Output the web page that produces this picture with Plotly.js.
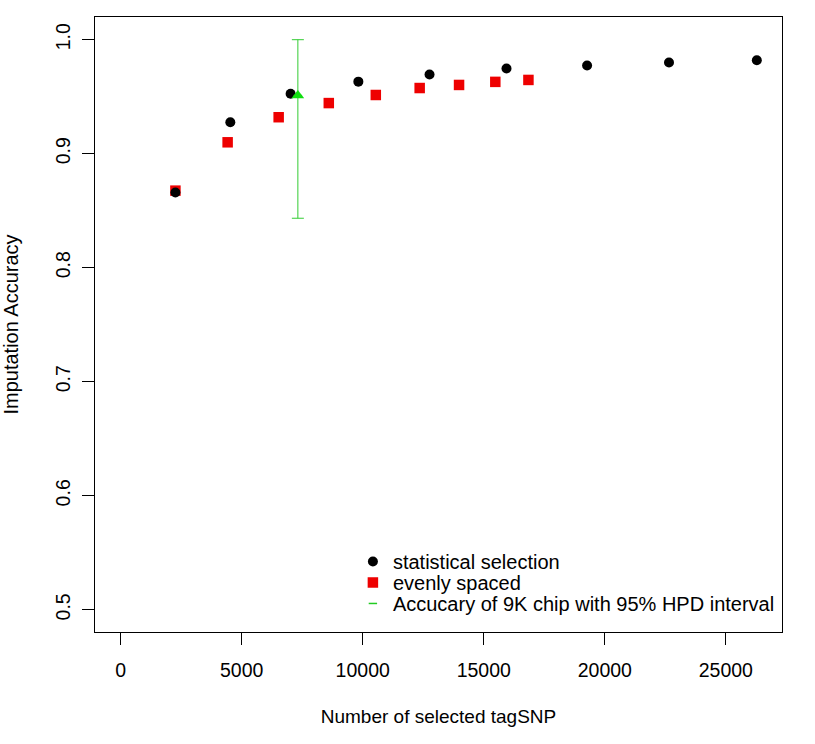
<!DOCTYPE html>
<html>
<head>
<meta charset="utf-8">
<script src="https://cdn.plot.ly/plotly-3.0.1.min.js"></script>
<style>html,body{margin:0;padding:0;background:#fff;}#chart{width:815px;height:744px;}</style>
</head>
<body>
<div id="chart"></div>
<script>
// Statistical selection (black circles)
const statX = [2262, 4530, 7020, 9819, 12759, 15939, 19268, 22652, 26280];
const statY = [0.866, 0.9276, 0.9526, 0.9632, 0.9694, 0.9747, 0.9774, 0.980, 0.982];
// Evenly spaced (red squares)
const evenX = [2262, 4419, 6527, 8598, 10540, 12352, 13979, 15477, 16845];
const evenY = [0.8676, 0.910, 0.932, 0.9444, 0.9515, 0.9576, 0.9603, 0.963, 0.9647];
// 9K chip accuracy with 95% HPD interval
const chipX = [7320];
const chipY = [0.951];
const chipUpper = [1.0];
const chipLower = [0.8434];

const xTicks = [0, 5000, 10000, 15000, 20000, 25000];
const yTicks = [0.5, 0.6, 0.7, 0.8, 0.9, 1.0];
const yTickText = ['0.5', '0.6', '0.7', '0.8', '0.9', '1.0'];

const names = ['statistical selection', 'evenly spaced', 'Accucary of 9K chip with 95% HPD interval'];

const FONT = 'Arial, "Liberation Sans", sans-serif';

const traces = [
  {
    x: evenX, y: evenY, type: 'scatter', mode: 'markers', name: names[1],
    marker: {symbol: 'square', size: 10.5, color: '#ee0000'},
    legend: 'legend2', cliponaxis: false
  },
  {
    x: statX, y: statY, type: 'scatter', mode: 'markers', name: names[0],
    marker: {symbol: 'circle', size: 10, color: '#000000'},
    legend: 'legend', cliponaxis: false
  },
  {
    x: chipX, y: chipY, type: 'scatter', mode: 'markers', name: names[2],
    marker: {symbol: 'line-ew-open', size: 6, color: '#22cc22', line: {color: '#22cc22', width: 1.5}},
    error_y: {
      type: 'data', symmetric: false,
      array: chipUpper.map((u, i) => u - chipY[i]),
      arrayminus: chipLower.map((l, i) => chipY[i] - l),
      color: '#33cc33', thickness: 1, width: 6
    },
    legend: 'legend3', cliponaxis: false
  },
  {
    x: chipX, y: chipY, type: 'scatter', mode: 'markers', name: 'chip point',
    marker: {symbol: 'triangle-up', size: 11, color: '#11dd11'},
    showlegend: false, cliponaxis: false
  }
];

function legendAt(yPaper) {
  return {
    x: 0.3754, xanchor: 'left', y: yPaper, yanchor: 'middle',
    bgcolor: 'rgba(0,0,0,0)', borderwidth: 0,
    font: {family: FONT, size: 20, color: '#000'}
  };
}

const layout = {
  width: 815, height: 744,
  margin: {l: 95, r: 33, t: 17, b: 112, pad: 0},
  paper_bgcolor: '#fff', plot_bgcolor: '#fff',
  font: {family: FONT, size: 19.5, color: '#000'},
  showlegend: true,
  legend: legendAt(0.1147),
  legend2: legendAt(0.0805),
  legend3: legendAt(0.0464),
  xaxis: {
    range: [-1060, 27320],
    tickvals: xTicks,
    ticktext: xTicks.map(String),
    ticks: 'outside', ticklen: 12, tickwidth: 1, tickcolor: '#000',
    showline: true, mirror: true, linecolor: '#000', linewidth: 1,
    showgrid: false, zeroline: false,
    tickfont: {family: FONT, size: 19.5, color: '#000'},
    ticklabelstandoff: 9,
    title: {text: 'Number of selected tagSNP', font: {family: FONT, size: 19, color: '#000'}, standoff: 29},
    automargin: false
  },
  yaxis: {
    range: [0.4805, 1.0199],
    tickvals: yTicks,
    ticktext: yTickText,
    tickangle: -90,
    ticks: 'outside', ticklen: 12, tickwidth: 1, tickcolor: '#000',
    showline: true, mirror: true, linecolor: '#000', linewidth: 1,
    showgrid: false, zeroline: false,
    tickfont: {family: FONT, size: 19.5, color: '#000'},
    ticklabelstandoff: 4,
    title: {text: 'Imputation Accuracy', font: {family: FONT, size: 20, color: '#000'}, standoff: 28},
    automargin: false
  }
};

Plotly.newPlot('chart', traces, layout, {displayModeBar: false, staticPlot: true});
</script>
</body>
</html>
